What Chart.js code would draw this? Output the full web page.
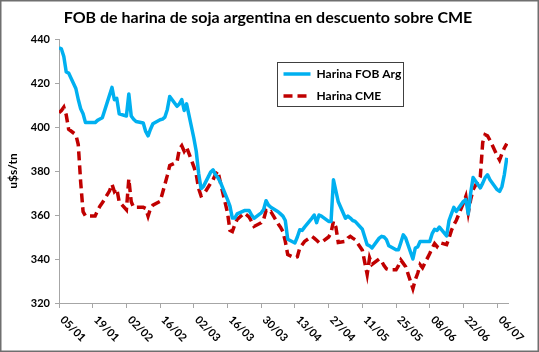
<!DOCTYPE html>
<html>
<head>
<meta charset="utf-8">
<script src="https://cdn.jsdelivr.net/npm/chart.js@4.4.1/dist/chart.umd.min.js"></script>
<style>
    html, body { margin: 0; padding: 0; background: #ffffff; }
    #wrap { position: relative; width: 539px; height: 352px; }
</style>
</head>
<body>
<div id="wrap"><canvas id="chart1" width="539" height="352"></canvas></div>
<script>
const chartTitle = 'FOB de harina de soja argentina en descuento sobre CME';
const tickDays = [0, 14, 28, 42, 56, 70, 84, 98, 112, 126, 140, 154, 168, 182];
const tickLabels = ['05/01', '19/01', '02/02', '16/02', '02/03', '16/03', '30/03', '13/04', '27/04', '11/05', '25/05', '08/06', '22/06', '06/07'];
const seriesNames = ['Harina FOB Arg', 'Harina CME'];

// one value per business day from 05/01 (u$s/tn)
const fobValues = [
    436, 435.5, 432, 425, 424.5,
    417.5, 412.5, 408.3, 406, 402,
    402, 402, 403, 403.6, 404.2,
    414.5, 418, 412.4, 413, 406,
    405, 415, 405, 403.5, 402.5,
    401.8, 398, 396, 399, 401.5,
    403.3, 403.6, 404.5, 408, 413.9,
    409.4, 410.5, 412.5, 407.5, 410.5,
    395, 389, 379, 372, 373,
    379.5, 380.5, 378.3, 377, 375,
    367, 364, 358.6, 358.6, 360.5,
    362, 362, 362, 360, 358.5,
    361, 362.5, 366.5, 364.5, 363.5,
    361.5, 360.5, 359.5, 357.5, 349,
    347.3, 350, 353.3, 353, 354.5,
    358.5, 360, 356.5, 360, 359.5,
    357.1, 357.1, 376, 371, 366,
    358.5, 359.5, 358.6, 357.5, 357.1,
    353.5, 350, 346.5, 346, 345,
    349.5, 350.3, 350, 348.8, 346,
    344.2, 344.2, 347.5, 351, 349.5,
    340, 345, 345.5, 348, 348,
    348, 351.5, 353.5, 353, 354.5,
    350.5, 357.5, 360.5, 363.5, 361.6,
    366.2, 367, 360.5, 370, 377,
    372.3, 374.5, 377, 378.3, 376,
    371.5, 370.7, 373, 378.5, 386,
];

const cmeValues = [
    406.5, 407.5, 409, 405.5, 399,
    396.5, 392, 375, 361.5, 359.5,
    359.5, 359.5, 362, 364, 365.5,
    371, 374, 370.7, 372, 366,
    362.4, 376.4, 366, 363.5, 363.5,
    363.5, 363, 359.5, 363, 364.5,
    366.2, 370, 374, 378, 382.5,
    384, 390, 391.5, 389, 390.8,
    382, 378.5, 372, 368.7, 369.2,
    374.5, 376, 378.5, 380, 375,
    361, 353, 352.5, 355.5, 358,
    360.9, 360, 359, 357, 354.8,
    356.5, 358, 362, 361, 361.5,
    356, 354.5, 352.5, 348, 342,
    340.5, 341, 345, 346.5, 348,
    350.3, 349.5, 348.5, 347.5, 347.5,
    350, 352, 357.1, 354.5, 347.5,
    348, 349.5, 350.3, 349.5, 348.8,
    344, 338.5, 333, 340.5, 337.5,
    340, 339, 337, 335.5, 335.1,
    335.1, 337, 339.5, 338, 336.5,
    326.5, 330.6, 333.5, 337.4, 336,
    342.5, 345, 347, 345.7, 347.5,
    346.5, 349.5, 353, 355.5, 357.5,
    365.5, 368.5, 361, 367, 371.5,
    377.5, 393, 396.5, 396, 394,
    387, 385, 388, 390.5, 392.5,
];

// days since 05/01 for each business day (Mon-Fri)
const businessDays = fobValues.map((_, i) => Math.floor(i / 5) * 7 + (i % 5));

const toPoints = (values) => values.map((v, i) => ({ x: businessDays[i], y: v }));

const FONT = 'Lato, "Liberation Sans", Arial, sans-serif';
const AXIS_COLOR = '#a6a6a6';

const chartFrame = {
    id: 'chartFrame',
    beforeDraw(chart) {
        const { ctx, width, height } = chart;
        ctx.save();
        ctx.fillStyle = '#ffffff';
        ctx.fillRect(0, 0, width, height);
        ctx.strokeStyle = '#6f6f6f';
        ctx.lineWidth = 1.5;
        ctx.strokeRect(0.75, 0.75, width - 1.5, height - 1.5);
        ctx.restore();
    },
    afterDraw(chart) {
        const { ctx } = chart;
        const xScale = chart.scales.x;

        ctx.save();
        // title
        ctx.fillStyle = '#000000';
        ctx.font = `bold 16px ${FONT}`;
        ctx.textAlign = 'center';
        ctx.textBaseline = 'middle';
        ctx.fillText(chartTitle, 268, 18);

        // rotated date labels
        ctx.font = `bold 11px ${FONT}`;
        ctx.textAlign = 'left';
        tickDays.forEach((day, i) => {
            const px = xScale.getPixelForValue(day);
            ctx.save();
            ctx.translate(px + 3, xScale.top + 15);
            ctx.rotate(Math.PI / 4);
            ctx.fillText(tickLabels[i], 0, 0);
            ctx.restore();
        });

        // legend box
        const box = { left: 277.5, top: 62.5, width: 126, height: 44 };
        ctx.strokeStyle = '#404040';
        ctx.lineWidth = 1;
        ctx.strokeRect(box.left, box.top, box.width, box.height);

        ctx.font = `bold 12px ${FONT}`;
        ctx.textBaseline = 'middle';
        chart.data.datasets.forEach((ds, i) => {
            const y = box.top + 11.5 + i * 22;
            ctx.beginPath();
            ctx.strokeStyle = ds.borderColor;
            ctx.lineWidth = ds.borderWidth;
            ctx.setLineDash(ds.borderDash || []);
            ctx.moveTo(box.left + 6, y);
            ctx.lineTo(box.left + 33, y);
            ctx.stroke();
            ctx.setLineDash([]);
            ctx.fillStyle = '#000000';
            ctx.fillText(ds.label, box.left + 39, y);
        });
        ctx.restore();
    },
};

new Chart(document.getElementById('chart1'), {
    type: 'line',
    data: {
        datasets: [
            {
                label: seriesNames[0],
                data: toPoints(fobValues),
                borderColor: '#00b0f0',
                borderWidth: 3.5,
                pointRadius: 0,
                tension: 0,
                borderJoinStyle: 'round',
            },
            {
                label: seriesNames[1],
                data: toPoints(cmeValues),
                borderColor: '#c00000',
                borderWidth: 3.5,
                borderDash: [9, 5],
                pointRadius: 0,
                tension: 0,
            },
        ],
    },
    options: {
        responsive: false,
        animation: false,
        devicePixelRatio: 1,
        layout: { padding: { left: 0, top: 39, right: 31, bottom: 0 } },
        plugins: { legend: { display: false }, tooltip: { enabled: false }, title: { display: false } },
        scales: {
            x: {
                type: 'linear',
                min: 0,
                max: 186.5,
                afterBuildTicks: (scale) => { scale.ticks = tickDays.map((v) => ({ value: v })); },
                afterFit: (scale) => { scale.height = 49; },
                ticks: { display: false },
                grid: { drawOnChartArea: false, drawTicks: true, tickLength: 5, color: AXIS_COLOR },
                border: { color: AXIS_COLOR, width: 1 },
            },
            y: {
                min: 320,
                max: 440,
                afterFit: (scale) => { scale.width = 59; },
                ticks: {
                    stepSize: 20,
                    padding: 5,
                    color: '#000000',
                    font: { family: FONT, size: 11, weight: 'bold' },
                },
                title: {
                    display: true,
                    text: 'u$s/tn',
                    color: '#000000',
                    padding: { top: 6, bottom: 0 },
                    font: { family: FONT, size: 12, weight: 'bold' },
                },
                grid: { drawOnChartArea: false, drawTicks: true, tickLength: 4, color: AXIS_COLOR },
                border: { color: AXIS_COLOR, width: 1 },
            },
        },
    },
    plugins: [chartFrame],
});
</script>
</body>
</html>
